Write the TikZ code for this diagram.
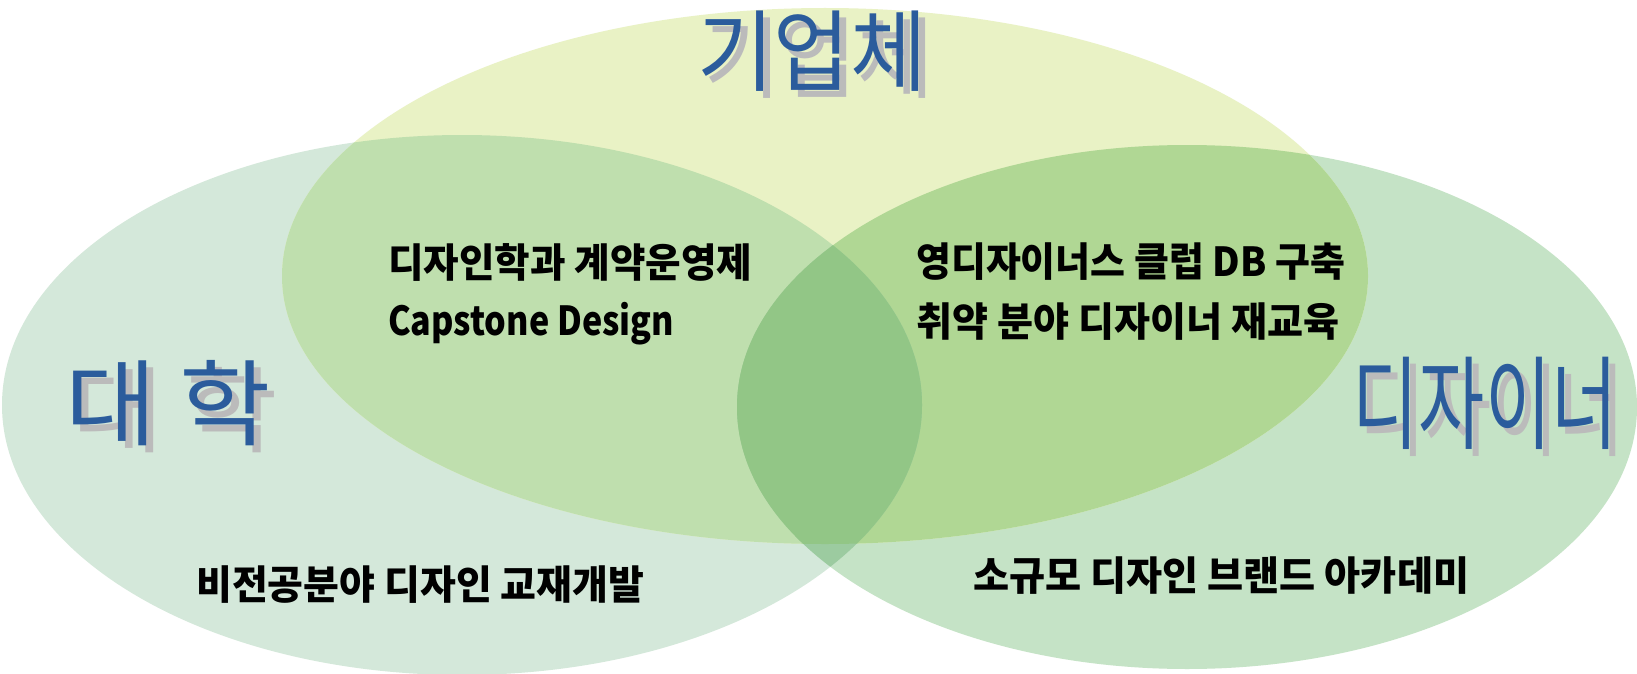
\documentclass[tikz,border=0pt]{standalone}
\usepackage{fontspec}
\usepackage{graphicx}
\newfontfamily\kr{Noto Sans CJK KR}
\definecolor{cT}{HTML}{E9F2C5}
\definecolor{cL}{HTML}{D4E8DA}
\definecolor{cR}{HTML}{C5E3C6}
\definecolor{cTL}{HTML}{BFDFAE}
\definecolor{cTR}{HTML}{B0D794}
\definecolor{cLR}{HTML}{9CCBA0}
\definecolor{cALL}{HTML}{92C686}
\definecolor{bigblue}{HTML}{2B5C9C}
\definecolor{shadowgray}{HTML}{BBBBBB}
\newcommand{\bigtxt}[3]{\resizebox{#1}{\height}{\fontsize{#2}{#2}\selectfont #3}}
\newcommand{\shadowed}[1]{\makebox[0pt][l]{\hspace*{7pt}\smash{\raisebox{-7pt}{\textcolor{shadowgray}{#1}}}}\textcolor{bigblue}{#1}}
\newcommand{\smtxt}[2]{\resizebox{#1}{\height}{\fontsize{40pt}{40pt}\selectfont #2}}
\tikzset{
  ET/.style={insert path={(825,276) ellipse [x radius=543pt, y radius=268pt]}},
  EL/.style={insert path={(462,405) ellipse [x radius=460pt, y radius=270pt]}},
  ER/.style={insert path={(1187,407) ellipse [x radius=450pt, y radius=262pt]}},
  big/.style={inner sep=0pt, font=\kr},
  small/.style={inner sep=0pt, text=black, font=\kr\bfseries, anchor=west},
}
\begin{document}
\begin{tikzpicture}[x=1pt,y=-1pt]
\useasboundingbox (0,0) rectangle (1637,674);
\fill[white] (0,0) rectangle (1637,674);
% single regions
\fill[cR, ER];
\fill[cL, EL];
\fill[cT, ET];
% pairwise with top
\begin{scope}
  \clip[ET];
  \fill[cTL, EL];
  \fill[cTR, ER];
\end{scope}
% left and right
\begin{scope}
  \clip[EL];
  \fill[cLR, ER];
  \clip[ET];
  \fill[cALL, ER];
\end{scope}
% big titles (blue with grey drop shadow)
\node[big] (t1) at (812,51) {\shadowed{\bigtxt{230pt}{89pt}{기업체}}};
\node[big] (t2) at (168,403) {\shadowed{\bigtxt{205pt}{94pt}{대 학}}};
\node[big] (t3) at (1485,403) {\shadowed{\bigtxt{265pt}{102pt}{디자이너}}};
% small texts
\node[small] (a1) at (388,262) {\smtxt{364pt}{디자인학과 계약운영제}};
\node[small] (a2) at (388,324) {\smtxt{286pt}{Capstone Design}};
\node[small] (b1) at (916,262) {\smtxt{429pt}{영디자이너스 클럽 DB 구축}};
\node[small] (b2) at (916,322) {\smtxt{423pt}{취약 분야 디자이너 재교육}};
\node[small] (c1) at (196,585) {\smtxt{448pt}{비전공분야 디자인 교재개발}};
\node[small] (d1) at (973,576) {\smtxt{496pt}{소규모 디자인 브랜드 아카데미}};
\end{tikzpicture}
\end{document}
